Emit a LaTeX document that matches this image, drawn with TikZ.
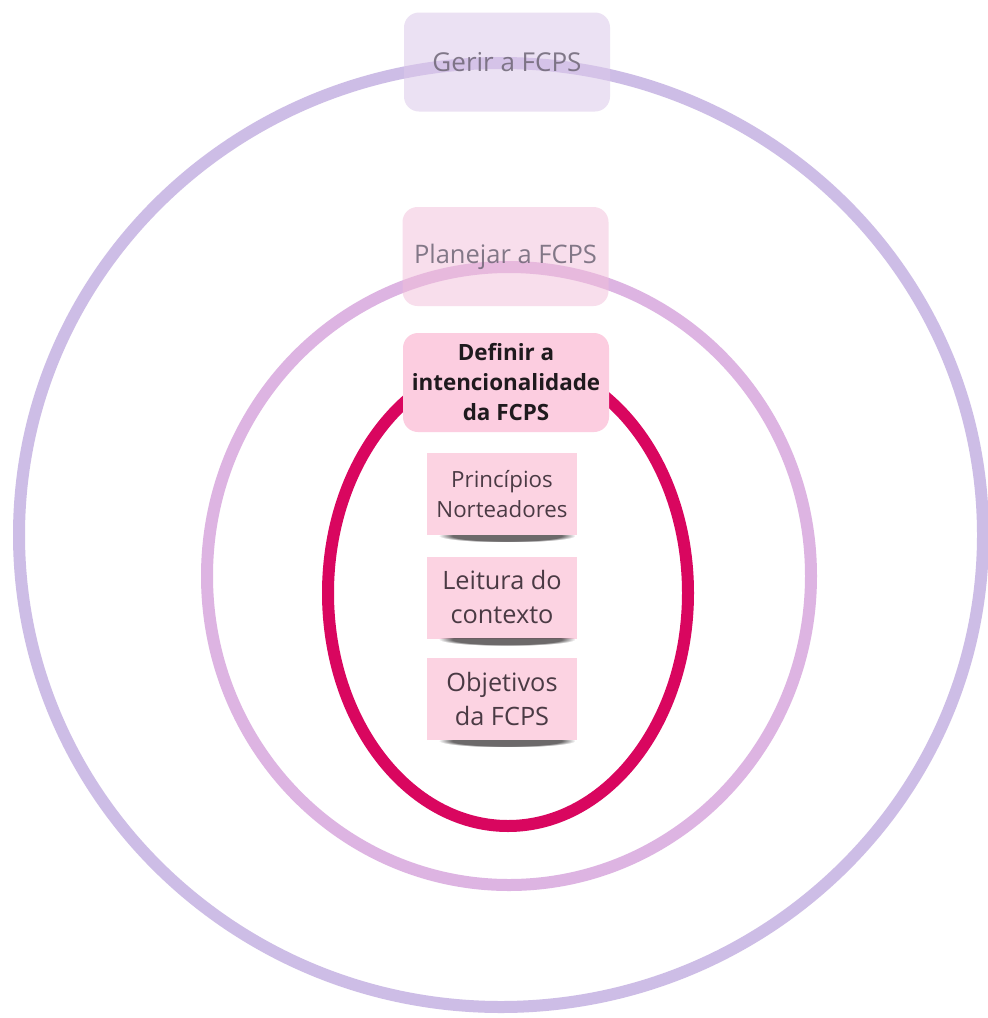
\documentclass[tikz,border=0pt]{standalone}
\usepackage{fontspec}
\setmainfont{Open Sans}
\usetikzlibrary{calc,fadings}

\definecolor{ringouter}{HTML}{CDBDE6}
\definecolor{ringmiddle}{HTML}{DDB4E2}
\definecolor{ringinner}{HTML}{D9065F}
\definecolor{gerirfill}{HTML}{DCC9EA}
\definecolor{planfill}{HTML}{F2BFDA}
\definecolor{deffill}{HTML}{FCCDE0}
\definecolor{notefill}{HTML}{FCD3E2}
\definecolor{fadedtext}{HTML}{6E6676}
\definecolor{notetext}{HTML}{4A3A44}
\definecolor{deftext}{HTML}{1F1A1E}
\definecolor{shadowgrey}{HTML}{2E2A2C}

\tikzset{
  ring/.style={line width=12pt},
  stagebox/.style={rounded corners=15pt, minimum width=206pt, minimum height=99pt,
    inner sep=0pt, align=center, text opacity=0.85},
  notebox/.style={fill=notefill, minimum width=150pt, minimum height=82pt,
    inner sep=0pt, align=center, text=notetext},
  noteshadow/.style={fill=shadowgrey, fill opacity=0.7,
    path fading=circle with fuzzy edge 20 percent},
}

\begin{document}
\begin{tikzpicture}[x=1pt, y=-1pt]
  \useasboundingbox[fill=white] (0,0) rectangle (988,1018);

  % concentric rings
  \draw[ring, ringouter] (501,535) ellipse [x radius=482pt, y radius=472pt];
  \draw[ring, ringmiddle] (509,576) ellipse [x radius=302pt, y radius=309pt];
  \draw[ring, ringinner] (508,593) ellipse [x radius=180pt, y radius=233pt];

  % stage labels
  \node[stagebox, fill=gerirfill, fill opacity=0.55, text=fadedtext,
        font=\fontsize{26pt}{30pt}\selectfont] (gerir) at (507,62) {Gerir a FCPS};
  \node[stagebox, fill=planfill, fill opacity=0.5, text=fadedtext,
        font=\fontsize{25.5pt}{30pt}\selectfont] (planejar) at (505.5,256.5) {Planejar a FCPS};
  \node[stagebox, fill=deffill, text=deftext, text opacity=1,
        font=\bfseries\fontsize{22.4pt}{30pt}\selectfont] (definir) at (506,382.5)
        {\rule{0pt}{4pt}Definir a\\intencionalidade\\da FCPS};

  % notes inside the inner ring
  \node[notebox, font=\fontsize{22.3pt}{30pt}\selectfont] (principios) at (502,494)
        {Princípios\\Norteadores};
  \node[notebox, font=\fontsize{25.3pt}{34pt}\selectfont] (leitura) at (502,597.5)
        {Leitura do\\contexto};
  \node[notebox, font=\fontsize{25.3pt}{34pt}\selectfont] (objetivos) at (502,699)
        {Objetivos\\da FCPS};

  % soft shadow under the lower edge of each note
  \foreach \n in {principios,leitura,objetivos} {
    \begin{scope}
      \clip ($(\n.south west)+(-10,0)$) rectangle ($(\n.south east)+(10,20)$);
      \fill[noteshadow] ($(\n.south west)+(12,-6)$) rectangle ($(\n.south east)+(-2,7)$);
    \end{scope}
  }
\end{tikzpicture}
\end{document}
